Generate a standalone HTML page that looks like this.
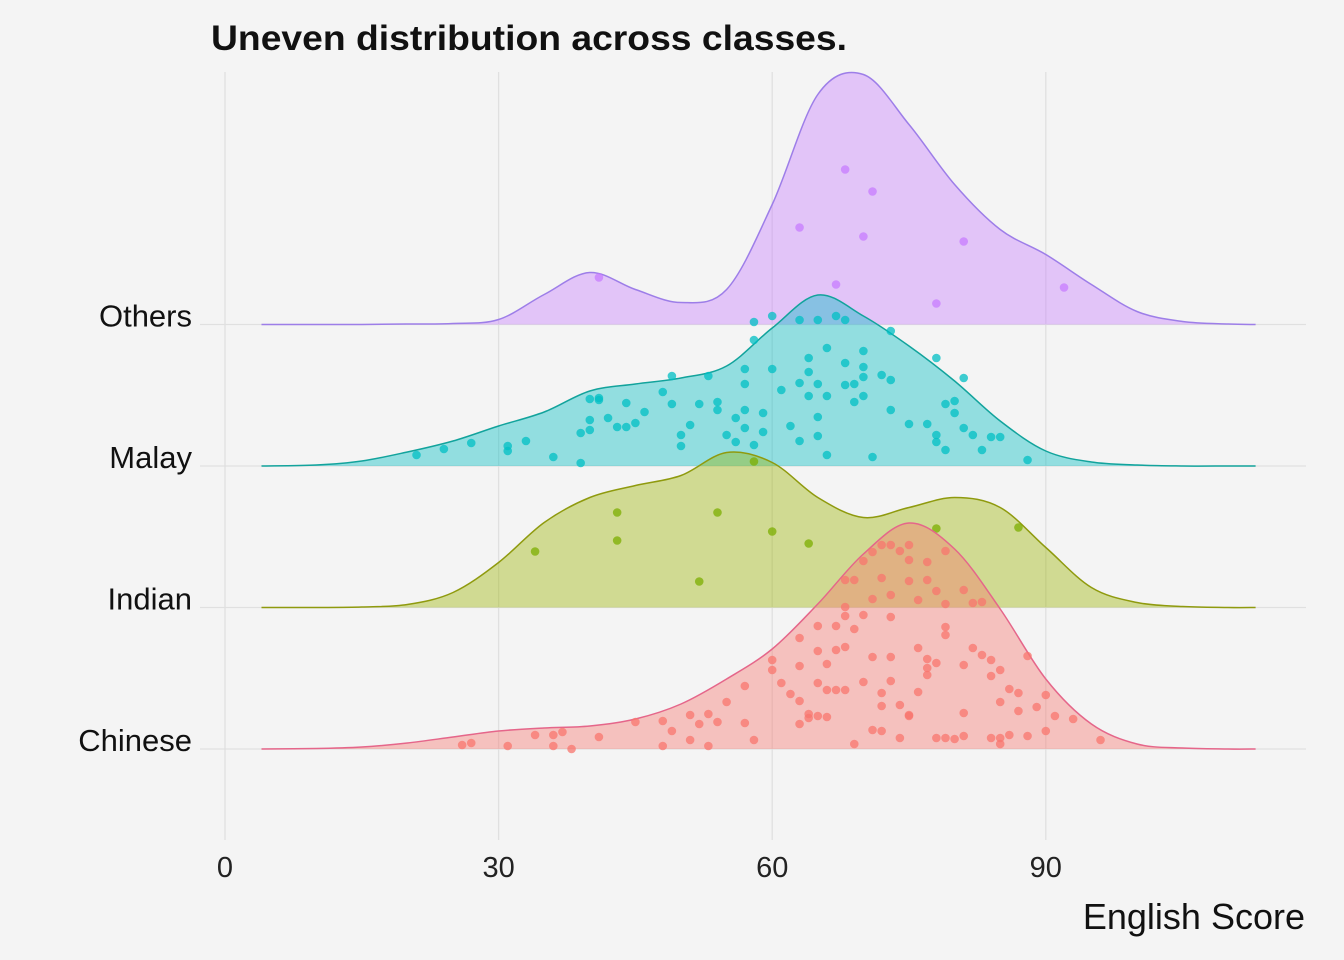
<!DOCTYPE html>
<html><head><meta charset="utf-8">
<style>
html,body{margin:0;padding:0;background:#f4f4f4;}
svg{display:block;font-family:"Liberation Sans",Arial,sans-serif;}
</style></head>
<body>
<svg id="chart" width="1344" height="960" viewBox="0 0 1344 960">
<rect x="0" y="0" width="1344" height="960" fill="#f4f4f4"/>
<text x="211" y="50" font-size="35" font-weight="bold" fill="#111" textLength="636" lengthAdjust="spacingAndGlyphs">Uneven distribution across classes.</text>
<g id="grid"></g>
<g id="ridges"></g>
<g id="axes"></g>
<text x="1305" y="929" font-size="36" text-anchor="end" fill="#111">English Score</text>
</svg>
<script>
const categories = ["Chinese","Indian","Malay","Others"];
const xTicks = [0,30,60,90];
const gridScores = [4,10,15,20,25,30,35,40,45,50,55,60,65,70,75,80,85,90,95,100,105,110,113];
const densChinese = [0,0.5,2,6,12,18,21,23,30,45,70,100,145,195,226,200,140,70,25,5,1,0,0];
const densIndian  = [0,0,0.5,3,15,45,85,110,122,132,155,145,110,90,100,110,100,60,20,5,1,0,0];
const densMalay   = [0,1,5,14,25,40,54,75,82,88,100,138,171,150,120,85,45,15,4,1,0,0,0];
const densOthers  = [0,0,0,0.5,1,5,30,52,35,22,35,120,230,250,200,140,95,70,40,13,3,0.5,0];

const ptsOthersX = [41,68,71,63,70,81,67,78,92];
const ptsOthersH = [47,155,133,97,88,83,40,21,37];
const ptsMalayX = [21,24,27,31,31,33,36,39,39,40,41,40,41,40,42,43,44,44,45,46,48,49,49,50,50,52,53,54,54,55,56,56,57,57,57,57,58,58,59,59,60,60,61,62,63,63,64,64,65,65,65,66,66,67,66,68,68,68,69,70,69,70,71,70,70,73,73,73,75,77,78,78,78,79,80,79,80,81,81,82,83,84,85,88,64,58,51,65,63,72];
const ptsMalayH = [11,17,23,20,15,25,9,3,33,46,68,67,66,36,48,39,63,39,43,54,74,90,62,31,20,62,90,64,56,31,24,48,82,56,97,38,144,126,53,34,150,97,76,40,25,83,70,94,82,30,49,11,70,150,118,81,146,103,64,89,82,99,9,70,115,135,56,86,42,42,108,31,24,16,53,62,65,88,38,31,16,29,29,6,108,21,41,146,146,91];
const ptsIndianX = [34,43,43,54,58,60,64,52,78,87];
const ptsIndianH = [56,95,67,95,146,76,64,26,79,80];
const ptsChineseX = [26,27,31,34,36,38,36,37,41,45,48,48,49,51,51,53,53,52,54,55,57,57,58,60,60,61,62,63,63,63,63,64,64,65,65,65,65,66,66,66,67,67,67,68,68,68,68,68,69,69,69,70,70,70,71,71,71,71,72,72,72,72,72,73,73,73,73,73,74,74,74,75,75,75,75,75,76,76,76,77,77,77,77,77,78,78,78,79,79,79,79,79,80,81,81,81,81,82,82,83,83,84,84,84,85,85,85,85,86,87,86,88,88,89,90,90,91,93,96,87];
const ptsChineseH = [4,6,3,14,3,0,14,17,12,27,3,28,18,9,34,35,3,25,27,47,63,26,9,89,79,66,55,25,48,83,111,31,35,33,98,123,66,85,59,32,59,123,99,59,142,169,102,133,120,5,169,134,67,188,150,197,92,19,171,56,204,43,18,154,68,92,204,132,11,198,44,168,189,33,34,204,101,57,149,187,169,90,81,74,11,86,158,145,122,11,198,114,10,13,36,159,84,146,101,94,147,11,89,73,79,5,47,11,60,38,14,13,93,42,54,18,33,30,9,56];

const X0 = 225, XU = 9.12;
function xScale(v){ return X0 + v*XU; }
const BASE0 = 749, STEP = 141.5;
function baseY(i){ return BASE0 - i*STEP; }
function yScale(i,h){ return baseY(i) - h; }

const NS = "http://www.w3.org/2000/svg";
const grid = document.getElementById('grid');
const ridges = document.getElementById('ridges');
const axes = document.getElementById('axes');

xTicks.forEach(t=>{
  const l = document.createElementNS(NS,'line');
  l.setAttribute('x1',xScale(t)); l.setAttribute('x2',xScale(t));
  l.setAttribute('y1',72); l.setAttribute('y2',840);
  l.setAttribute('stroke','#e0e0e0'); l.setAttribute('stroke-width','1.3');
  
  
  grid.appendChild(l);
  const tx = document.createElementNS(NS,'text');
  tx.setAttribute('x',xScale(t)); tx.setAttribute('y',877);
  tx.setAttribute('font-size','29'); tx.setAttribute('text-anchor','middle'); tx.setAttribute('fill','#222');
  tx.textContent = t;
  
  
  axes.appendChild(tx);
});
categories.forEach((c,i)=>{
  const l = document.createElementNS(NS,'line');
  l.setAttribute('x1',200); l.setAttribute('x2',1306);
  l.setAttribute('y1',baseY(i)); l.setAttribute('y2',baseY(i));
  l.setAttribute('stroke','#e0e0e0'); l.setAttribute('stroke-width','1.3');
  
  
  grid.appendChild(l);
  const tx = document.createElementNS(NS,'text');
  tx.setAttribute('x',192); tx.setAttribute('y',baseY(i)+2);
  tx.setAttribute('font-size','31'); tx.setAttribute('text-anchor','end'); tx.setAttribute('fill','#111');
  tx.textContent = c;
  
  
  axes.appendChild(tx);
});

const series = [
  {i:3, d:densOthers, px:ptsOthersX, ph:ptsOthersH, fill:"#C77CFF", stroke:"#9d7ee8", pt:"#C77CFF"},
  {i:2, d:densMalay, px:ptsMalayX, ph:ptsMalayH, fill:"#00BFC4", stroke:"#12a39c", pt:"#00BFC4"},
  {i:1, d:densIndian, px:ptsIndianX, ph:ptsIndianH, fill:"#9cb300", stroke:"#8f9a0e", pt:"#7CAE00"},
  {i:0, d:densChinese, px:ptsChineseX, ph:ptsChineseH, fill:"#F8766D", stroke:"#e5668a", pt:"#F8766D"}
];

function smoothPath(pts){
  let d = 'M'+pts[0][0]+','+pts[0][1];
  for(let k=0;k<pts.length-1;k++){
    const p0=pts[Math.max(0,k-1)], p1=pts[k], p2=pts[k+1], p3=pts[Math.min(pts.length-1,k+2)];
    const c1x=p1[0]+(p2[0]-p0[0])/6, c1y=p1[1]+(p2[1]-p0[1])/6;
    const c2x=p2[0]-(p3[0]-p1[0])/6, c2y=p2[1]-(p3[1]-p1[1])/6;
    d+=' C'+c1x.toFixed(1)+','+c1y.toFixed(1)+' '+c2x.toFixed(1)+','+c2y.toFixed(1)+' '+p2[0].toFixed(1)+','+p2[1].toFixed(1);
  }
  return d;
}

series.forEach(s=>{
  const name = categories[s.i].toLowerCase();
  const g = document.createElementNS(NS,'g');
  
  
  const pts = gridScores.map((v,k)=>[xScale(v), yScale(s.i, s.d[k])]);
  const line = smoothPath(pts);
  const area = document.createElementNS(NS,'path');
  area.setAttribute('d', line+' L'+xScale(gridScores[gridScores.length-1])+','+baseY(s.i)+' L'+xScale(gridScores[0])+','+baseY(s.i)+' Z');
  area.setAttribute('fill',s.fill); area.setAttribute('fill-opacity','0.4');
  
  
  g.appendChild(area);
  const ln = document.createElementNS(NS,'path');
  ln.setAttribute('d',line); ln.setAttribute('fill','none');
  ln.setAttribute('stroke',s.stroke); ln.setAttribute('stroke-width','1.5');
  
  
  g.appendChild(ln);
  s.px.forEach((v,k)=>{
    const c = document.createElementNS(NS,'circle');
    c.setAttribute('cx',xScale(v)); c.setAttribute('cy',yScale(s.i,s.ph[k]));
    c.setAttribute('r','4.3'); c.setAttribute('fill',s.pt); c.setAttribute('fill-opacity','0.75');
    
    
    g.appendChild(c);
  });
  ridges.appendChild(g);
});
</script>
</body></html>
